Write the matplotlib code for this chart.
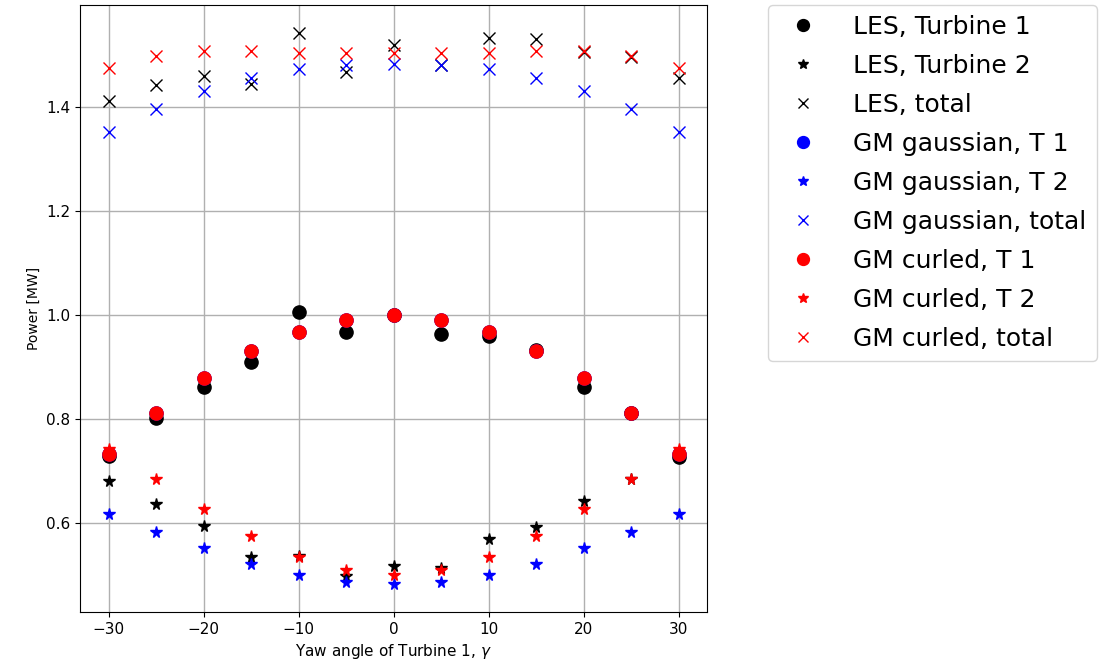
import matplotlib
matplotlib.use("Agg")
import matplotlib.pyplot as plt
import numpy as np

yaw = [-30, -25, -20, -15, -10, -5, 0, 5, 10, 15, 20, 25, 30]

les_t1 = [0.730, 0.803, 0.862, 0.909, 1.005, 0.968, 1.000, 0.964, 0.959, 0.933, 0.862, 0.811, 0.728]
les_t2 = [0.681, 0.637, 0.596, 0.536, 0.537, 0.499, 0.518, 0.515, 0.571, 0.594, 0.643, 0.685, 0.727]
les_tot = [1.411, 1.442, 1.459, 1.444, 1.542, 1.467, 1.518, 1.479, 1.531, 1.529, 1.505, 1.496, 1.455]

gau_t1 = [0.733, 0.812, 0.879, 0.931, 0.968, 0.991, 1.000, 0.991, 0.968, 0.931, 0.879, 0.812, 0.733]
gau_t2 = [0.618, 0.583, 0.552, 0.523, 0.502, 0.488, 0.483, 0.488, 0.502, 0.523, 0.552, 0.583, 0.618]
gau_tot = [1.352, 1.396, 1.430, 1.455, 1.472, 1.480, 1.482, 1.480, 1.472, 1.455, 1.430, 1.396, 1.352]

cur_t1 = [0.733, 0.812, 0.879, 0.931, 0.968, 0.991, 1.000, 0.991, 0.968, 0.931, 0.879, 0.812, 0.733]
cur_t2 = [0.742, 0.685, 0.628, 0.575, 0.536, 0.511, 0.502, 0.511, 0.536, 0.575, 0.628, 0.685, 0.742]
cur_tot = [1.475, 1.498, 1.506, 1.506, 1.503, 1.502, 1.502, 1.502, 1.503, 1.506, 1.506, 1.498, 1.475]

series = [
    (les_t1, 'k', 'o', 'LES, Turbine 1'),
    (les_t2, 'k', '*', 'LES, Turbine 2'),
    (les_tot, 'k', 'x', 'LES, total'),
    (gau_t1, 'b', 'o', 'GM gaussian, T 1'),
    (gau_t2, 'b', '*', 'GM gaussian, T 2'),
    (gau_tot, 'b', 'x', 'GM gaussian, total'),
    (cur_t1, 'r', 'o', 'GM curled, T 1'),
    (cur_t2, 'r', '*', 'GM curled, T 2'),
    (cur_tot, 'r', 'x', 'GM curled, total'),
]

sizes = {'o': 9.5, '*': 8.5, 'x': 8.0}

fig = plt.figure(figsize=(11.02, 6.72), dpi=100)
ax = fig.add_axes([80/1102, 1-612/672, (707-80)/1102, (612-5)/672])
for vals, c, m, lab in series:
    ax.plot(yaw, vals, linestyle='none', color=c, marker=m, markersize=sizes[m], label=lab)

ax.grid(True, color='#b0b0b0', linewidth=1.0)
ax.set_axisbelow(True)
ax.set_xlabel(r'Yaw angle of Turbine 1, $\gamma$', fontsize=11)
ax.set_ylabel('Power [MW]', fontsize=10)
ax.tick_params(labelsize=11)
ax.set_xticks([-30, -20, -10, 0, 10, 20, 30])
ax.set_yticks([0.6, 0.8, 1.0, 1.2, 1.4])

ax.legend(loc='upper left', bbox_to_anchor=(1.098, 1.0), borderaxespad=0,
          fontsize=18, markerscale=0.9, handletextpad=1.0, labelspacing=0.6)

fig.savefig('out.png', dpi=100)
